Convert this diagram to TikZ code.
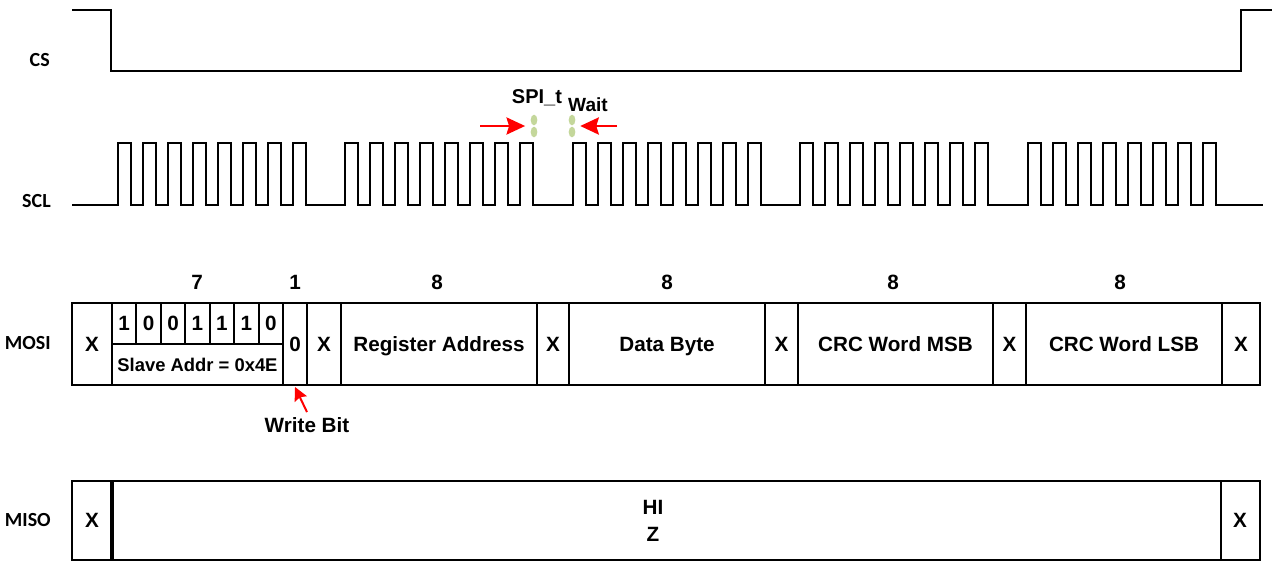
\documentclass[tikz,border=0pt]{standalone}
\usepackage{fontspec}
\setmainfont{Liberation Sans}
\newfontfamily\signalfont{Carlito}
\usetikzlibrary{arrows.meta,shapes.geometric}
\definecolor{waitGreen}{HTML}{C4D79B}
\definecolor{markRed}{HTML}{FF0000}

\tikzset{
  wave/.style={line width=1.5pt, line join=miter},
  cell/.style={line width=1.5pt},
  celltext/.style={font=\bfseries\fontsize{15.5}{18}\selectfont, text height=11pt, text depth=0pt, inner sep=0pt},
  smalltext/.style={celltext, font=\bfseries\fontsize{13.8}{16}\selectfont, text height=9.9pt},
  signame/.style={font=\signalfont\bfseries\fontsize{15}{18}\selectfont, anchor=east, text height=9.7pt, text depth=0pt, inner sep=0pt},
  redarrow/.style={draw=markRed, line width=1.2pt, -{Stealth[length=14pt,width=13pt,inset=2pt,fill=markRed]}},
  bitarrow/.style={draw=markRed, line width=1.5pt, -{Stealth[length=10pt,width=10pt,inset=1.5pt,fill=markRed]}},
  waitdot/.style={ellipse, fill=waitGreen, minimum width=5pt, minimum height=8pt, inner sep=0pt}
}

\begin{document}
\begin{tikzpicture}[x=0.75pt, y=-0.75pt]
\useasboundingbox (0,0) rectangle (1273,561);

% signal names
\node[signame] (csname) at (50,60) {CS};
\node[signame] (sclname) at (51,201) {SCL};
\node[signame] (mosiname) at (51,343) {MOSI};
\node[signame] (misoname) at (51,520) {MISO};

% chip select
\draw[wave] (72,10) -- (111,10) -- (111,71) -- (1241,71) -- (1241,10) -- (1272,10);

% clock, five bursts of eight
\draw[wave] (72,205)
  \foreach \g in {0,...,4} { \foreach \p in {0,...,7} {
    -- ({118+227.4*\g+25*\p},205) -- ++(0,-62) -- ++(13,0) -- ++(0,62)
  } } -- (1263,205);

% wait time marker
\node[waitdot] (w1a) at (534,120) {};
\node[waitdot] (w1b) at (534,132) {};
\node[waitdot] (w2a) at (572,120) {};
\node[waitdot] (w2b) at (572,132) {};
\node[celltext, font=\bfseries\fontsize{15}{18}\selectfont] (spit) at (537,96) {SPI\_t};
\node[celltext, font=\bfseries\fontsize{14.3}{18}\selectfont] (wait) at (588,104.5) {Wait};
\coordinate (arrL) at (480,126);
\coordinate (arrR) at (617,126);
\draw[redarrow, shorten >=4pt] (arrL) -- (arrL -| w1a.west);
\draw[redarrow, shorten >=3.5pt] (arrR) -- (arrR -| w2a.east);

% MOSI fields
\foreach \a/\b/\t/\n in {72/112/X/mx0, 283/307/0/mwr, 307/341/X/mx1,
    341/537/Register Address/mreg, 537/569/X/mx2, 569/765/Data Byte/mdata,
    765/798/X/mx3, 798/993/CRC Word MSB/mcrch, 993/1026/X/mx4,
    1026/1222/CRC Word LSB/mcrcl, 1222/1260/X/mx5} {
  \draw[cell] (\a,303) rectangle (\b,385);
  \node[celltext] (\n) at ({(\a+\b)/2},344) {\t};
}
\draw[cell] (112,303) rectangle (283,385);
\draw[cell] (112,344) -- (283,344);
\foreach \v [count=\i from 0] in {1,0,0,1,1,1,0} {
  \draw[cell] ({112+24.43*\i},303) -- ({112+24.43*\i},344);
  \node[celltext] (bit\i) at ({124.2+24.43*\i},323) {\v};
}
\node[smalltext] (saddr) at (197.5,365) {Slave Addr = 0x4E};

% bit counts
\node[celltext] (n7) at (197,282) {7};
\node[celltext] (n1) at (295,282) {1};
\node[celltext] (n8a) at (437,282) {8};
\node[celltext] (n8b) at (667,282) {8};
\node[celltext] (n8c) at (893,282) {8};
\node[celltext] (n8d) at (1120,282) {8};

% write bit note
\node[celltext] (wbit) at (307,425) {Write Bit};
\coordinate (wrbot) at (295,387);
\draw[bitarrow] ([yshift=4pt]wbit.north) -- (wrbot);

% MISO
\draw[cell] (72,481) rectangle (1260,560);
\draw[line width=2.4pt] (112,481) -- (112,560);
\draw[cell] (1221,481) -- (1221,560);
\node[celltext] (sx0) at (92,520) {X};
\node[celltext] (hi) at (653,507) {HI};
\node[celltext] (hiz) at (653,534) {Z};
\node[celltext] (sx1) at (1240,520) {X};
\end{tikzpicture}
\end{document}
